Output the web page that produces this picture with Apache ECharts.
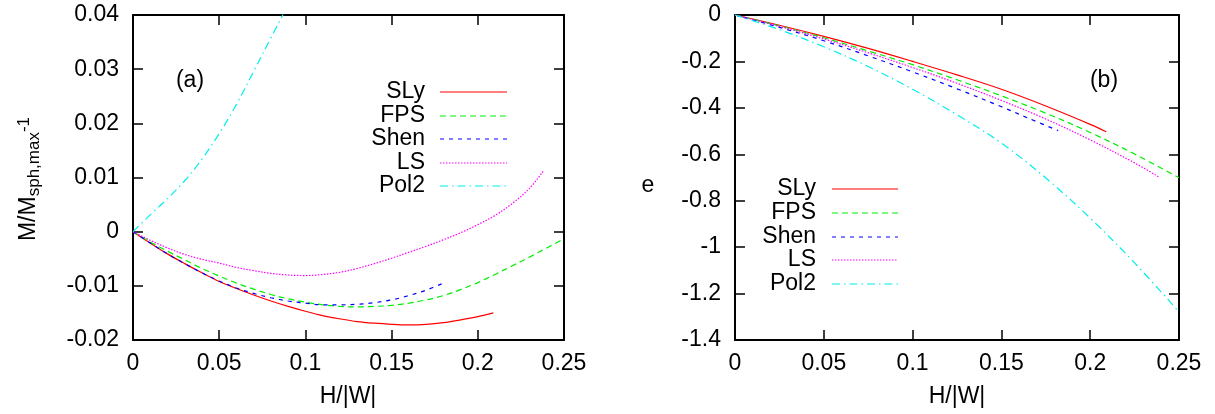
<!DOCTYPE html>
<html>
<head>
<meta charset="utf-8">
<script src="https://cdn.jsdelivr.net/npm/echarts@6/dist/echarts.min.js"></script>
<style>
html,body{margin:0;padding:0;background:#fff;}
#chart{width:1215px;height:414px;}
</style>
</head>
<body>
<div id="chart"></div>
<script>
// ---------- DATA ----------
const seriesNames = ['SLy', 'FPS', 'Shen', 'LS', 'Pol2'];

// Panel (a): M/M_sph,max - 1 versus H/|W|
const a_SLy_H  = [0,0.01,0.02,0.03,0.04,0.05,0.06,0.07,0.08,0.09,0.10,0.11,0.12,0.13,0.14,0.15,0.16,0.17,0.18,0.19,0.20,0.209];
const a_SLy_M  = [0,-0.0021,-0.0041,-0.0059,-0.0076,-0.0092,-0.0105,-0.0117,-0.0128,-0.0138,-0.0147,-0.0155,-0.0161,-0.0166,-0.0169,-0.0171,-0.0172,-0.0171,-0.0168,-0.0163,-0.0157,-0.0150];
const a_FPS_H  = [0,0.01,0.02,0.03,0.04,0.05,0.06,0.07,0.08,0.09,0.10,0.11,0.12,0.13,0.14,0.15,0.16,0.17,0.18,0.19,0.20,0.21,0.22,0.23,0.24,0.25];
const a_FPS_M  = [0,-0.0019,-0.0036,-0.0052,-0.0068,-0.0082,-0.0095,-0.0106,-0.0116,-0.0124,-0.0130,-0.0135,-0.0138,-0.0139,-0.0138,-0.0136,-0.0132,-0.0126,-0.0118,-0.0107,-0.0094,-0.0079,-0.0063,-0.0047,-0.0030,-0.0013];
const a_Shen_H = [0,0.01,0.02,0.03,0.04,0.05,0.06,0.07,0.08,0.09,0.10,0.11,0.12,0.13,0.14,0.15,0.16,0.17,0.18];
const a_Shen_M = [0,-0.0021,-0.0041,-0.0059,-0.0076,-0.0091,-0.0104,-0.0114,-0.0122,-0.0128,-0.0132,-0.0135,-0.0135,-0.0134,-0.0131,-0.0126,-0.0118,-0.0108,-0.0095];
const a_LS_H   = [0,0.01,0.02,0.03,0.04,0.05,0.06,0.07,0.08,0.09,0.10,0.11,0.12,0.13,0.14,0.15,0.16,0.17,0.18,0.19,0.20,0.21,0.22,0.23,0.238];
const a_LS_M   = [0,-0.0016,-0.0030,-0.0042,-0.0051,-0.0058,-0.0066,-0.0072,-0.0077,-0.0080,-0.0081,-0.0079,-0.0075,-0.0068,-0.0059,-0.0049,-0.0038,-0.0027,-0.0015,-0.0002,0.0013,0.0030,0.0052,0.0080,0.0112];
const a_Pol2_H = [0,0.01,0.02,0.03,0.04,0.05,0.06,0.07,0.08,0.09,0.10];
const a_Pol2_M = [0,0.0031,0.0061,0.0094,0.0134,0.0181,0.0235,0.0296,0.0358,0.0420,0.0490];

// Panel (b): e versus H/|W|
const b_SLy_H  = [0,0.025,0.05,0.075,0.10,0.125,0.15,0.175,0.20,0.209];
const b_SLy_e  = [0,-0.044,-0.092,-0.144,-0.200,-0.258,-0.320,-0.392,-0.471,-0.503];
const b_FPS_H  = [0,0.025,0.05,0.075,0.10,0.125,0.15,0.175,0.20,0.225,0.25];
const b_FPS_e  = [0,-0.047,-0.098,-0.155,-0.214,-0.279,-0.348,-0.423,-0.506,-0.599,-0.701];
const b_Shen_H = [0,0.025,0.05,0.075,0.10,0.125,0.15,0.165,0.182];
const b_Shen_e = [0,-0.053,-0.111,-0.176,-0.245,-0.318,-0.395,-0.444,-0.498];
const b_LS_H   = [0,0.025,0.05,0.075,0.10,0.125,0.15,0.175,0.20,0.225,0.2385];
const b_LS_e   = [0,-0.049,-0.103,-0.163,-0.226,-0.294,-0.368,-0.448,-0.538,-0.637,-0.697];
const b_Pol2_H = [0,0.025,0.05,0.075,0.10,0.125,0.15,0.175,0.20,0.225,0.25];
const b_Pol2_e = [0,-0.063,-0.137,-0.222,-0.320,-0.430,-0.552,-0.702,-0.875,-1.068,-1.279];

// Tick labels
const xTickLabels  = ['0','0.05','0.1','0.15','0.2','0.25'];
const aYTickLabels = ['-0.02','-0.01','0','0.01','0.02','0.03','0.04'];
const bYTickLabels = ['-1.4','-1.2','-1','-0.8','-0.6','-0.4','-0.2','0'];

// ---------- STYLE ----------
const FONT = 'Liberation Sans';
const FS = 23;
const colors = {SLy:'#ff0000', FPS:'#00ee00', Shen:'#0000ff', LS:'#ff00ff', Pol2:'#00eeee'};
const dashes = {SLy:'solid', FPS:[6,4], Shen:[4,5], LS:[1.5,1.5], Pol2:[8,4,1.5,4]};

function zip(xs, ys){ return xs.map((x,i)=>[x, ys[i]]); }
function lookup(labels, min, step){
  return function(v){ const i = Math.round((v - min)/step); return labels[i] !== undefined ? labels[i] : ''; };
}

const axisLineStyle = {color:'#000', width:2};
function xAxes(gridIndex){
  const base = {type:'value', gridIndex, min:0, max:0.25, interval:0.05,
    splitLine:{show:false}, axisLine:{onZero:false, lineStyle:axisLineStyle},
    axisTick:{inside:true, length:10, lineStyle:{color:'#000', width:1.5}}};
  return [
    Object.assign({}, base, {position:'bottom',
      axisLabel:{color:'#000', fontFamily:FONT, fontSize:FS, margin:12, formatter:lookup(xTickLabels,0,0.05)}}),
    Object.assign({}, base, {position:'top', axisLabel:{show:false}})
  ];
}
function yAxes(gridIndex, min, max, interval, labels){
  const base = {type:'value', gridIndex, min, max, interval,
    splitLine:{show:false}, axisLine:{onZero:false, lineStyle:axisLineStyle},
    axisTick:{inside:true, length:10, lineStyle:{color:'#000', width:1.5}}};
  return [
    Object.assign({}, base, {position:'left',
      axisLabel:{color:'#000', fontFamily:FONT, fontSize:FS, margin:14, formatter:lookup(labels,min,interval)}}),
    Object.assign({}, base, {position:'right', axisLabel:{show:false}})
  ];
}

const aData = {SLy:zip(a_SLy_H,a_SLy_M), FPS:zip(a_FPS_H,a_FPS_M), Shen:zip(a_Shen_H,a_Shen_M), LS:zip(a_LS_H,a_LS_M), Pol2:zip(a_Pol2_H,a_Pol2_M)};
const bData = {SLy:zip(b_SLy_H,b_SLy_e), FPS:zip(b_FPS_H,b_FPS_e), Shen:zip(b_Shen_H,b_Shen_e), LS:zip(b_LS_H,b_LS_e), Pol2:zip(b_Pol2_H,b_Pol2_e)};

const series = [];
seriesNames.forEach(n=>{
  series.push({type:'line', name:n, xAxisIndex:0, yAxisIndex:0, data:aData[n], showSymbol:false, symbol:'none',
    clip:true, smooth:0.35, lineStyle:{color:colors[n], width:1.2, type:dashes[n]}, z:3});
  series.push({type:'line', name:n, xAxisIndex:2, yAxisIndex:2, data:bData[n], showSymbol:false, symbol:'none',
    clip:true, smooth:0.35, lineStyle:{color:colors[n], width:1.2, type:dashes[n]}, z:3});
});

// Legend (text + sample line) drawn as graphics
function legendGraphics(textRight, lineX0, lineX1, rowYs){
  const g = [];
  seriesNames.forEach((n,i)=>{
    g.push({type:'text', x:textRight, y:rowYs[i],
      style:{text:n, font:FS+'px "'+FONT+'"', fill:'#000', textAlign:'right', textVerticalAlign:'middle'}});
    g.push({type:'line', shape:{x1:lineX0, y1:rowYs[i], x2:lineX1, y2:rowYs[i]},
      style:{stroke:colors[n], lineWidth:1.2, lineDash: dashes[n]==='solid'?null:dashes[n]}});
  });
  return g;
}

const graphic = [].concat(
  legendGraphics(425, 440, 507, [92,116,139,163,186]),
  legendGraphics(816, 832, 898, [189,213,237,260,284]),
  [
    {type:'text', x:190, y:81, style:{text:'(a)', font:FS+'px "'+FONT+'"', fill:'#000', textAlign:'center', textVerticalAlign:'middle'}},
    {type:'text', x:1104, y:81, style:{text:'(b)', font:FS+'px "'+FONT+'"', fill:'#000', textAlign:'center', textVerticalAlign:'middle'}},
    {type:'text', x:348, y:397, style:{text:'H/|W|', font:FS+'px "'+FONT+'"', fill:'#000', textAlign:'center', textVerticalAlign:'middle'}},
    {type:'text', x:957, y:397, style:{text:'H/|W|', font:FS+'px "'+FONT+'"', fill:'#000', textAlign:'center', textVerticalAlign:'middle'}},
    {type:'text', x:648, y:186, style:{text:'e', font:FS+'px "'+FONT+'"', fill:'#000', textAlign:'center', textVerticalAlign:'middle'}},
    {type:'text', x:29, y:179, rotation:Math.PI/2,
      style:{text:'{m|M/M}{sub|sph,max}{sup|-1}', fill:'#000', textAlign:'center', textVerticalAlign:'middle',
        rich:{
          m:{fontFamily:FONT, fontSize:FS, fill:'#000', color:'#000'},
          sub:{fontFamily:FONT, fontSize:17, fill:'#000', color:'#000', padding:[10,0,0,0]},
          sup:{fontFamily:FONT, fontSize:17, fill:'#000', color:'#000', padding:[0,0,10,0]}
        }}}
  ]
);

const option = {
  animation:false,
  backgroundColor:'#fff',
  grid:[
    {left:133, top:15, width:431, height:325},
    {left:735, top:15, width:444, height:325}
  ],
  xAxis: [].concat(xAxes(0), xAxes(1)),
  yAxis: [].concat(yAxes(0,-0.02,0.04,0.01,aYTickLabels), yAxes(1,-1.4,0,0.2,bYTickLabels)),
  series,
  graphic
};

const chart = echarts.init(document.getElementById('chart'), null, {renderer:'canvas'});
chart.setOption(option);
</script>
</body>
</html>
